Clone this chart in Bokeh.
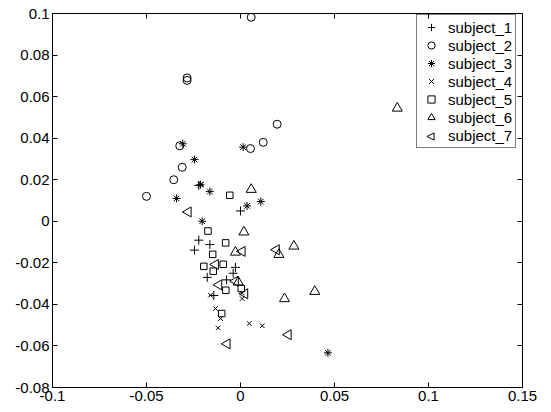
import math
from bokeh.plotting import figure
from bokeh.models import Range1d, FixedTicker, LinearAxis, Legend, LegendItem, PolyAnnotation
from bokeh.embed import file_html
from bokeh.resources import INLINE

# ---- data ----
s1_x = [-0.0222, 0.0000, -0.0222, -0.0163, -0.0245, -0.0177, -0.0074, -0.0027, -0.0039, -0.0142]
s1_y = [0.0173, 0.0050, -0.0091, -0.0112, -0.0139, -0.0270, -0.0282, -0.0222, -0.0250, -0.0357]

s2_x = [0.0057, -0.0284, -0.0284, -0.0323, -0.0310, -0.0355, -0.0500, 0.0053, 0.0121, 0.0195]
s2_y = [0.0982, 0.0690, 0.0678, 0.0363, 0.0260, 0.0200, 0.0120, 0.0350, 0.0380, 0.0467]

s3_x = [-0.0340, -0.0307, -0.0245, -0.0213, -0.0163, -0.0204, 0.0014, 0.0035, 0.0108, 0.0465]
s3_y = [0.0110, 0.0373, 0.0297, 0.0176, 0.0143, 0.0000, 0.0357, 0.0074, 0.0095, -0.0633]

s4_x = [-0.0209, -0.0160, -0.0133, -0.0106, -0.0119, 0.0047, 0.0116, 0.0009, 0.0009]
s4_y = [0.0178, -0.0356, -0.0420, -0.0468, -0.0513, -0.0492, -0.0503, -0.0372, -0.0345]

s5_x = [-0.0057, -0.0173, -0.0079, -0.0148, -0.0195, -0.0145, -0.0092, -0.0078, -0.0100, 0.0004]
s5_y = [0.0125, -0.0047, -0.0104, -0.0159, -0.0217, -0.0240, -0.0207, -0.0332, -0.0444, -0.0324]

s6_x = [0.0057, 0.0018, -0.0027, 0.0204, 0.0284, -0.0012, 0.0234, 0.0395, 0.0834]
s6_y = [0.0153, -0.0052, -0.0149, -0.0160, -0.0120, -0.0293, -0.0373, -0.0338, 0.0544]

s7_x = [-0.0278, 0.0009, 0.0191, 0.0254, -0.0071, -0.0115, -0.0133, -0.0027, 0.0023]
s7_y = [0.0045, -0.0145, -0.0137, -0.0546, -0.0590, -0.0306, -0.0208, -0.0288, -0.0349]

series_names = ["subject_1", "subject_2", "subject_3", "subject_4", "subject_5", "subject_6", "subject_7"]

x_ticks = [-0.1, -0.05, 0, 0.05, 0.1, 0.15]
x_tick_labels = ["-0.1", "-0.05", "0", "0.05", "0.1", "0.15"]
y_ticks = [-0.08, -0.06, -0.04, -0.02, 0, 0.02, 0.04, 0.06, 0.08, 0.1]
y_tick_labels = ["-0.08", "-0.06", "-0.04", "-0.02", "0", "0.02", "0.04", "0.06", "0.08", "0.1"]

FONT = "Liberation Sans"
FS = "15px"

# frame geometry (screen px)
FRAME_L, FRAME_T, FRAME_W, FRAME_H = 52, 13, 470, 374

p = figure(width=551, height=412, output_backend="svg", toolbar_location=None,
           x_range=Range1d(-0.1, 0.15), y_range=Range1d(-0.08, 0.1),
           min_border_left=FRAME_L, min_border_right=551 - FRAME_L - FRAME_W,
           min_border_top=FRAME_T, min_border_bottom=412 - FRAME_T - FRAME_H)
p.xgrid.visible = False
p.ygrid.visible = False
p.outline_line_color = "black"
p.outline_line_width = 1
p.background_fill_color = "white"
p.border_fill_color = "white"

def style_axis(ax, ticks, labels, show_labels=True):
    ax.ticker = FixedTicker(ticks=ticks)
    ax.major_label_overrides = {t: (l if show_labels else "") for t, l in zip(ticks, labels)}
    ax.minor_tick_line_color = None
    ax.major_tick_in = 5
    ax.major_tick_out = 0
    ax.axis_line_color = "black"
    ax.major_tick_line_color = "black"
    ax.major_label_text_font = FONT
    ax.major_label_text_font_size = FS
    ax.major_label_text_color = "black"
    ax.major_label_standoff = 3 if show_labels else 0

style_axis(p.xaxis[0], x_ticks, x_tick_labels)
style_axis(p.yaxis[0], y_ticks, y_tick_labels)

top = LinearAxis()
style_axis(top, x_ticks, x_tick_labels, show_labels=False)
p.add_layout(top, "above")
right = LinearAxis()
style_axis(right, y_ticks, y_tick_labels, show_labels=False)
p.add_layout(right, "right")

common = dict(line_color="black", fill_color=None, line_width=1)
r1 = p.scatter(s1_x, s1_y, marker="cross", size=9, **common)
r2 = p.scatter(s2_x, s2_y, marker="circle", size=8, **common)
r3 = p.scatter(s3_x, s3_y, marker="asterisk", size=8, **common)
r4 = p.scatter(s4_x, s4_y, marker="x", size=6.5, **common)
r5 = p.scatter(s5_x, s5_y, marker="square", size=6.5, **common)
r6 = p.scatter(s6_x, s6_y, marker="triangle", size=10, **common)
r7 = p.scatter(s7_x, s7_y, marker="triangle", angle=math.pi / 2, size=10, **common)
# legend stand-in for subject_7 (legend glyphs are never rotated; drawn below by hand)
r7_leg = p.scatter([], [], marker="triangle", size=10, line_color="black", line_alpha=0, fill_color=None)

renderers = [r1, r2, r3, r4, r5, r6, r7_leg]

# legend placement (screen px)
LEG_L, LEG_T = 416, 16
PAD, ROW, GW = 3, 18, 22
N = len(series_names)
LEG_H = 2 * PAD + N * ROW
legend = Legend(items=[LegendItem(label=n, renderers=[r]) for n, r in zip(series_names, renderers)],
                location=(LEG_L - FRAME_L, FRAME_T + FRAME_H - LEG_T - LEG_H))
legend.margin = 0
legend.padding = PAD
legend.spacing = 0
legend.glyph_width = GW
legend.glyph_height = ROW
legend.label_height = ROW
legend.label_standoff = 6
legend.label_text_font = FONT
legend.label_text_font_size = FS
legend.label_text_color = "black"
legend.label_text_baseline = "middle"
legend.border_line_color = "black"
legend.border_line_width = 1
legend.background_fill_color = None
legend.background_fill_alpha = 0
p.add_layout(legend, "center")

# left-pointing triangle legend glyph for subject_7 (row 7)
cx = LEG_L + PAD + GW / 2 - FRAME_L
cy = FRAME_T + FRAME_H - (LEG_T + PAD + 6 * ROW + ROW / 2)
h = 3.6
tri = PolyAnnotation(xs=[cx + h, cx - h, cx + h], ys=[cy + h, cy, cy - h],
                     xs_units="screen", ys_units="screen",
                     line_color="black", line_alpha=1, line_width=1,
                     fill_color=None, fill_alpha=0)
p.add_layout(tri)

open("out.html", "w").write(file_html(p, INLINE))
